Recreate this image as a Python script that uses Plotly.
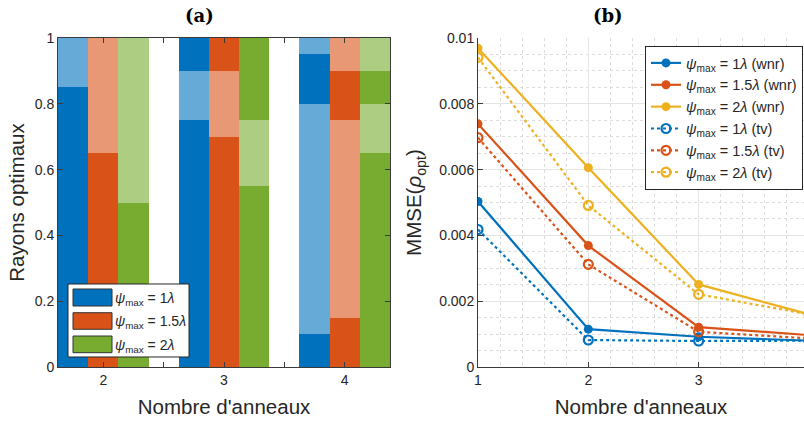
import plotly.graph_objects as go

# ---------------- data ----------------
ring_counts = [2, 3, 4]
psi_labels = ["1", "1.5", "2"]
# cumulative ring boundaries (optimal radii), one list per number of rings
radii_psi1 = [[0.85, 1.0], [0.75, 0.90, 1.0], [0.10, 0.80, 0.95, 1.0]]
radii_psi15 = [[0.65, 1.0], [0.70, 0.90, 1.0], [0.15, 0.75, 0.90, 1.0]]
radii_psi2 = [[0.50, 1.0], [0.55, 0.75, 1.0], [0.65, 0.80, 0.90, 1.0]]

n_rings_b = [1, 2, 3, 4]
mmse_wnr_1 = [0.00503, 0.00115, 0.00092, 0.00080]
mmse_wnr_15 = [0.00739, 0.00369, 0.00121, 0.00097]
mmse_wnr_2 = [0.00969, 0.00606, 0.00251, 0.00160]
mmse_tv_1 = [0.00418, 0.00082, 0.00079, 0.00080]
mmse_tv_15 = [0.00697, 0.00312, 0.00107, 0.00087]
mmse_tv_2 = [0.00941, 0.00491, 0.00221, 0.00160]

yticks_a = [0, 0.2, 0.4, 0.6, 0.8, 1]
ytick_text_a = ["0", "0.2", "0.4", "0.6", "0.8", "1"]
yticks_b = [0, 0.002, 0.004, 0.006, 0.008, 0.01]
ytick_text_b = ["0", "0.002", "0.004", "0.006", "0.008", "0.01"]

# ---------------- styles ----------------
dark = ["#0072BD", "#D95319", "#77AC30"]
light = ["#66AAD7", "#E89875", "#ADCD83"]
line_cols = ["#0072BD", "#D95319", "#EDB120"]
offsets = [-0.25, 0.0, 0.25]
bar_w = 0.25
FONT = "Liberation Sans, Arial, sans-serif"
TXT = "#262626"
AX = "#3a3a3a"

fig = go.Figure()

all_radii = [radii_psi1, radii_psi15, radii_psi2]
for i, radii in enumerate(all_radii):
    xs = {0: [], 1: []}
    bases = {0: [], 1: []}
    hs = {0: [], 1: []}
    for j, n in enumerate(ring_counts):
        bounds = [0.0] + radii[j]
        for k in range(len(bounds) - 1):
            s = k % 2
            xs[s].append(n + offsets[i])
            bases[s].append(bounds[k])
            hs[s].append(bounds[k + 1] - bounds[k])
    for s, col in ((0, dark[i]), (1, light[i])):
        fig.add_trace(go.Bar(
            x=xs[s], y=hs[s], base=bases[s], width=bar_w,
            marker=dict(color=col, line=dict(width=0)),
            showlegend=False, xaxis="x", yaxis="y",
        ))

def psi_name(p, extra=""):
    return f"<i>ψ</i><sub>max</sub> = {p}<i>λ</i>{extra}"

wnr = [mmse_wnr_1, mmse_wnr_15, mmse_wnr_2]
tv = [mmse_tv_1, mmse_tv_15, mmse_tv_2]
for i in range(3):
    fig.add_trace(go.Scatter(
        x=n_rings_b, y=wnr[i], mode="lines+markers",
        line=dict(color=line_cols[i], width=2.2),
        marker=dict(symbol="circle", size=9, color=line_cols[i]),
        name=psi_name(psi_labels[i], " (wnr)"), xaxis="x2", yaxis="y2",
    ))
for i in range(3):
    fig.add_trace(go.Scatter(
        x=n_rings_b, y=tv[i], mode="lines+markers",
        line=dict(color=line_cols[i], width=2.2, dash="dot"),
        marker=dict(symbol="circle-open", size=9, color=line_cols[i],
                    line=dict(width=2.2, color=line_cols[i])),
        name=psi_name(psi_labels[i], " (tv)"), xaxis="x2", yaxis="y2",
    ))

# left-panel legend drawn with shapes (wide swatches as in the reference)
shapes = [dict(type="rect", xref="x domain", yref="y domain",
               x0=0.0301, x1=0.3946, y0=0.0304, y1=0.2523,
               fillcolor="white", line=dict(color=TXT, width=1), layer="above")]
rows = [(0.1854, 0.2371), (0.1146, 0.1650), (0.0435, 0.0942)]
annotations = []
for i, (y0, y1) in enumerate(rows):
    shapes.append(dict(type="rect", xref="x domain", yref="y domain",
                       x0=0.0452, x1=0.1627, y0=y0, y1=y1,
                       fillcolor=dark[i], line=dict(color="#333333", width=1),
                       layer="above"))
    annotations.append(dict(xref="x domain", yref="y domain",
                            x=0.166, y=(y0 + y1) / 2 - 0.004, xanchor="left",
                            yanchor="middle", showarrow=False,
                            text=psi_name(psi_labels[i]),
                            font=dict(family=FONT, size=14, color=TXT)))

annotations.append(dict(xref="paper", yref="paper", x=199 / 804, y=(367 - 15) / 329,
                        xanchor="center", yanchor="middle", showarrow=False,
                        text="<b>(a)</b>",
                        font=dict(family="DejaVu Serif, serif", size=18, color="black")))
annotations.append(dict(xref="paper", yref="paper", x=608 / 804, y=(367 - 15) / 329,
                        xanchor="center", yanchor="middle", showarrow=False,
                        text="<b>(b)</b>",
                        font=dict(family="DejaVu Serif, serif", size=18, color="black")))

tickfont = dict(family=FONT, size=14, color=TXT)
titlefont = dict(family=FONT, size=20.5, color=TXT)

fig.update_layout(
    width=804, height=422,
    margin=dict(l=0, r=0, t=38, b=55, autoexpand=False),
    paper_bgcolor="white", plot_bgcolor="white",
    barmode="overlay", bargap=0,
    font=dict(family=FONT, color=TXT),
    shapes=shapes, annotations=annotations,
    xaxis=dict(
        domain=[58 / 804, 390 / 804], range=[1.625, 4.375], automargin=False,
        tickvals=ring_counts, ticks="inside", ticklen=5, tickcolor=AX,
        minor=dict(dtick=0.5, tick0=0, ticks="inside", ticklen=5, tickcolor=AX),
        showline=True, linecolor=AX, linewidth=1, mirror="ticks",
        showgrid=False, zeroline=False, tickfont=tickfont,
        title=dict(text="Nombre d'anneaux", font=titlefont, standoff=12),
    ),
    yaxis=dict(
        domain=[0, 1], range=[0, 1], anchor="x", automargin=False,
        tickvals=yticks_a, ticktext=ytick_text_a,
        ticks="inside", ticklen=5, tickcolor=AX,
        showline=True, linecolor=AX, linewidth=1, mirror="ticks",
        showgrid=False, zeroline=False, tickfont=tickfont,
        title=dict(text="Rayons optimaux", font=titlefont, standoff=4),
    ),
    xaxis2=dict(
        domain=[478 / 804, 1.0], range=[1, 3.955], anchor="y2", automargin=False,
        tickvals=[1, 2, 3, 4], ticks="inside", ticklen=5, tickcolor=AX,
        showline=True, linecolor=AX, linewidth=1,
        showgrid=True, gridcolor="#e4e4e4", gridwidth=1, zeroline=False,
        minor=dict(dtick=0.2, showgrid=True, gridcolor="#dcdcdc", griddash="dot",
                   gridwidth=1),
        tickfont=tickfont,
        title=dict(text="Nombre d'anneaux", font=titlefont, standoff=12),
    ),
    yaxis2=dict(
        domain=[0, 1], range=[0, 0.01], anchor="x2", automargin=False,
        tickvals=yticks_b, ticktext=ytick_text_b,
        ticks="inside", ticklen=5, tickcolor=AX,
        showline=True, linecolor=AX, linewidth=1,
        showgrid=True, gridcolor="#e4e4e4", gridwidth=1, zeroline=False,
        minor=dict(dtick=0.0005, showgrid=True, gridcolor="#dcdcdc", griddash="dot",
                   gridwidth=1),
        tickfont=tickfont,
        title=dict(text="MMSE(<i>ρ</i><sub>opt</sub>)", font=titlefont, standoff=11),
    ),
    legend=dict(
        x=645 / 804, y=(367 - 46) / 329, xanchor="left", yanchor="top",
        xref="paper", yref="paper",
        bgcolor="white", bordercolor=TXT, borderwidth=1,
        font=dict(family=FONT, size=14.5, color=TXT),
        itemwidth=30, tracegroupgap=0,
    ),
)

fig.write_html("out.html", config={"displayModeBar": False},
               post_script="document.body.style.margin='0px';"
                           "document.body.style.padding='0px';")
